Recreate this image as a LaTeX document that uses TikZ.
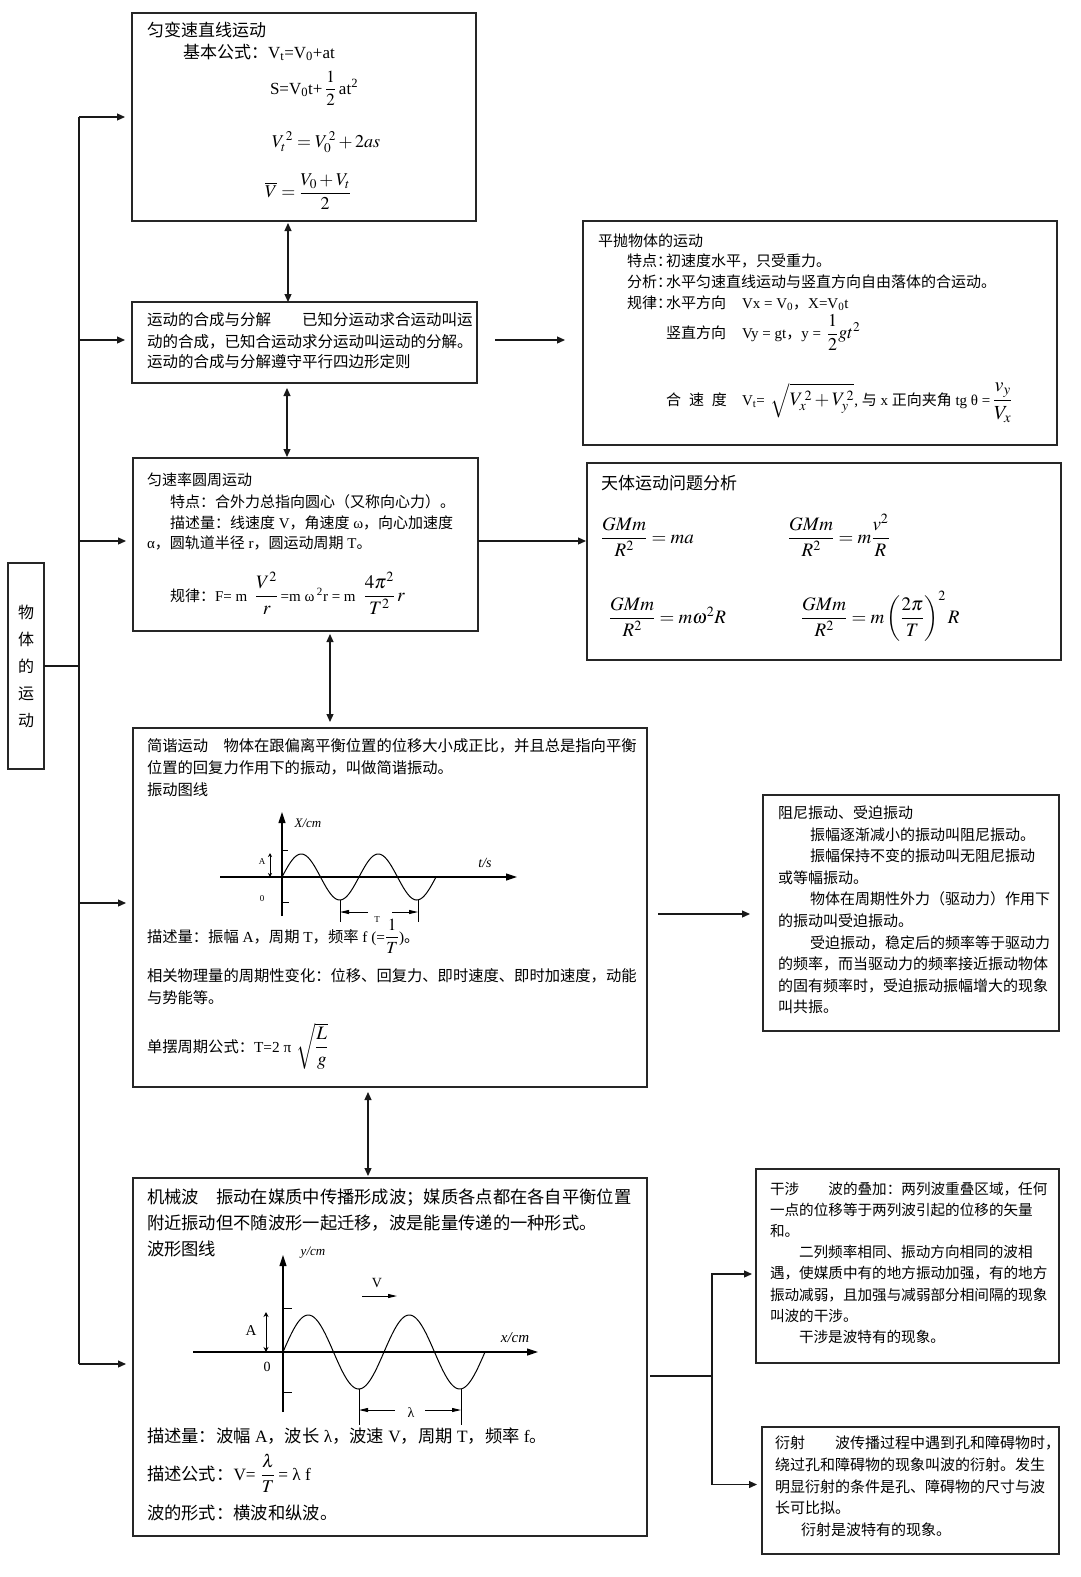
\documentclass[tikz,border=0pt]{standalone}
\usepackage{amsmath}
\usepackage{mathptmx}
\usepackage{fontspec}
\setmainfont{Liberation Serif}
\newfontfamily\cjkf{Noto Sans CJK SC}
\newfontfamily\latf{Liberation Serif}
\usetikzlibrary{arrows.meta,calc}
\XeTeXinterchartokenstate=1
\newXeTeXintercharclass\CJKcls
\newcount\mycc
\mycc="4E00
\loop \XeTeXcharclass\mycc=\CJKcls \advance\mycc by 1 \ifnum\mycc<"A000 \repeat
\mycc="3000
\loop \XeTeXcharclass\mycc=\CJKcls \advance\mycc by 1 \ifnum\mycc<"3040 \repeat
\mycc="FF00
\loop \XeTeXcharclass\mycc=\CJKcls \advance\mycc by 1 \ifnum\mycc<"FFF0 \repeat
\XeTeXinterchartoks 0 \CJKcls = {\cjkf}
\XeTeXinterchartoks 4095 \CJKcls = {\cjkf}
\XeTeXinterchartoks \CJKcls 0 = {\latf}
\XeTeXinterchartoks \CJKcls 4095 = {\latf}
\newcommand\fs[1]{\fontsize{#1}{#1}\selectfont}
\newcommand\Bx[5]{\node[box,minimum width=#4,minimum height=#5] (#1) at (#2,#3) {};}
\newcommand\Txt[5]{\node[txt,font=\fs{#2}] (#1) at (#3,#4) {#5};}
\begin{document}
\begin{tikzpicture}[x=1pt,y=-1pt,
  box/.style={draw=black!85,line width=1.4pt,anchor=north west,inner sep=0pt,outer sep=0pt},
  txt/.style={inner sep=0pt,outer sep=0pt,anchor=base west},
  lbl/.style={inner sep=0pt,outer sep=0pt,anchor=center},
  conn/.style={line width=1.2pt,draw=black!90},
  arr/.style={conn,-{Triangle[length=8pt,width=7pt]}},
  dbl/.style={conn,{Triangle[length=8pt,width=7pt]}-{Triangle[length=8pt,width=7pt]}},
  axis/.style={line width=1.1pt,-{Triangle[length=11pt,width=7pt]}},
  curve/.style={line width=1pt},
  dim/.style={line width=0.9pt,-{Triangle[length=9pt,width=4pt]}},
  thinl/.style={line width=0.9pt}]
\path[use as bounding box,fill=white] (0,0) rectangle (1080,1577);

% boxes
\Bx{b1}{132}{13}{344}{208}
\Bx{b2}{132}{302}{345}{81}
\Bx{b3}{583}{221}{474}{224}
\Bx{b4}{133}{458}{345}{173}
\Bx{b5}{587}{463}{474}{197}
\Bx{b6}{133}{728}{514}{359}
\Bx{b7}{763}{795}{296}{236}
\Bx{b8}{133}{1178}{514}{358}
\Bx{b9}{756}{1169}{303}{194}
\Bx{b10}{762}{1427}{297}{127}
\Bx{bl}{8}{563}{36}{206}

% left vertical label
\node[lbl,font=\fontsize{16}{27}\selectfont,align=center] (lv) at (26,666.5) {物\\体\\的\\运\\动};

% tree
\coordinate (trunk) at (79,0);
\coordinate (e1) at (b1.west);
\coordinate (e2) at ([yshift=2.5pt]b2.west);
\coordinate (e4) at ([yshift=3.5pt]b4.west);
\coordinate (e6) at ([yshift=4.5pt]b6.west);
\coordinate (e8) at ([yshift=-7pt]b8.west);
\draw[conn] (bl.east) -- (bl.east -| trunk);
\draw[conn] (e1 -| trunk) -- (e8 -| trunk);
\foreach \e in {e1,e2,e4,e6,e8} \draw[arr,shorten >=7pt] (\e -| trunk) -- (\e);

% vertical double arrows
\draw[dbl,shorten <=2pt] ([xshift=-16pt]b1.south) -- ([xshift=-16.5pt]b2.north);
\draw[dbl,shorten <=5pt,shorten >=1pt] ([xshift=-17.5pt]b2.south) -- ([xshift=-18.5pt]b4.north);
\draw[dbl,shorten <=3pt,shorten >=6pt] ([xshift=24.5pt]b4.south) -- ([xshift=-60pt]b6.north);
\draw[dbl,shorten <=5pt,shorten >=2pt] ([xshift=-22pt]b6.south) -- ([xshift=-22pt]b8.north);

% horizontal arrows
\coordinate (h2) at ([yshift=2.5pt]b2.east);
\draw[arr,shorten <=18pt,shorten >=18pt] (h2) -- (h2 -| b3.west);
\coordinate (h4) at ([yshift=3.5pt]b4.east);
\draw[arr,shorten >=1pt] (h4) -- (h4 -| b5.west);
\coordinate (h6) at ([yshift=-6.5pt]b6.east);
\draw[arr,shorten <=11pt,shorten >=13pt] (h6) -- (h6 -| b7.west);
\coordinate (h8) at ([yshift=-19pt]b8.east);
\coordinate (jn) at (712,1376);
\draw[conn,shorten <=3pt] (h8) -- (jn);
\coordinate (h9) at ([yshift=-8pt]b9.west);
\coordinate (h10) at ([yshift=6pt]b10.west);
\draw[arr,shorten >=4pt] (jn) |- (h9);
\draw[arr,shorten >=5pt] (jn) |- (h10);

% box 1
\Txt{t1a}{17}{147}{36}{匀变速直线运动}
\Txt{t1b}{17}{183}{58}{基本公式：V\textsubscript{t}=V\textsubscript{0}+at}
\Txt{t1c}{17}{270}{94}{S=V\textsubscript{0}t+\,$\dfrac{1}{2}$\,at\textsuperscript{2}}
\Txt{t1d}{18}{272}{147}{$V_t^{\,2} = V_0^{\,2} + 2as$}
\Txt{t1e}{18}{265}{197.5}{$\overline{V} = \dfrac{V_0+V_t}{2}$}

% box 2
\Txt{t2a}{15.5}{147}{325.6}{运动的合成与分解　　已知分运动求合运动叫运}
\Txt{t2b}{15.5}{147}{347.3}{动的合成，已知合运动求分运动叫运动的分解。}
\Txt{t2c}{15.5}{147}{367.3}{运动的合成与分解遵守平行四边形定则}

% box 3
\Txt{t3a}{15}{598}{246.5}{平抛物体的运动}
\Txt{t3b1}{15}{627}{266.5}{特点：}
\Txt{t3b2}{15}{666}{266.5}{初速度水平，只受重力。}
\Txt{t3c1}{15}{627}{287.5}{分析：}
\Txt{t3c2}{15}{666}{287.5}{水平匀速直线运动与竖直方向自由落体的合运动。}
\Txt{t3d1}{15}{627}{308.5}{规律：}
\Txt{t3d2}{15}{666}{308.5}{水平方向}
\Txt{t3d3}{15}{742}{308.5}{Vx = V\textsubscript{0}，X=V\textsubscript{0}t}
\Txt{t3e1}{15}{666}{338.5}{竖直方向}
\Txt{t3e2}{15}{742}{338.5}{Vy = gt，y =\hspace{6pt}{\fs{18}$\dfrac{1}{2}gt^2$}}
\Txt{t3f1}{15}{666}{405.5}{合\hspace{8pt}速\hspace{8pt}度}
\Txt{t3f2}{15}{742}{405.5}{V\textsubscript{t}=\hspace{6pt}{\fs{19}$\sqrt{V_x^{\,2}+V_y^{\,2}}$}, 与 x 正向夹角 tg θ =\,{\fs{20}$\dfrac{v_y}{V_x}$}}

% box 4
\Txt{t4a}{15}{147}{485.5}{匀速率圆周运动}
\Txt{t4b}{15}{170}{507.5}{特点：合外力总指向圆心（又称向心力）。}
\Txt{t4c}{15}{170}{528.5}{描述量：线速度 V，角速度 ω，向心加速度}
\Txt{t4d}{15}{147}{548.5}{α，圆轨道半径 r，圆运动周期 T。}
\Txt{t4e}{15}{170}{601}{规律：F= m\hspace{8pt}{\fs{19}$\dfrac{V^2}{r}$}\,=m ω\,\textsuperscript{2}r = m\hspace{8pt}{\fs{19}$\dfrac{4\pi^2}{T^2}\,r$}}

% box 5
\Txt{t5a}{17}{601}{489}{天体运动问题分析}
\Txt{t5b}{19}{601}{543}{$\dfrac{GMm}{R^2}=ma$}
\Txt{t5c}{19}{788}{543}{$\dfrac{GMm}{R^2}=m\dfrac{v^2}{R}$}
\Txt{t5d}{19}{609}{623}{$\dfrac{GMm}{R^2}=m\omega^2R$}
\Txt{t5e}{19}{801}{623}{$\dfrac{GMm}{R^2}=m\left(\dfrac{2\pi}{T}\right)^{2}R$}

% box 6
\Txt{t6a}{15.3}{147}{751.5}{简谐运动　物体在跟偏离平衡位置的位移大小成正比，并且总是指向平衡}
\Txt{t6b}{15.3}{147}{773.5}{位置的回复力作用下的振动，叫做简谐振动。}
\Txt{t6c}{15.3}{147}{795.5}{振动图线}
\Txt{t6d}{15.3}{147}{942}{描述量：振幅 A，周期 T，频率 f (={\fs{17}$\dfrac{1}{T}$})。}
\Txt{t6e}{15.3}{147}{981.5}{相关物理量的周期性变化：位移、回复力、即时速度、即时加速度，动能}
\Txt{t6f}{15.3}{147}{1003.5}{与势能等。}
\Txt{t6g}{15.3}{147}{1052}{单摆周期公式：T=2 π\hspace{5pt}{\fs{19}$\sqrt{\dfrac{L}{g}}$}}

% vibration graph
\draw[axis] (220,877) -- (517,877);
\draw[axis] (282,916) -- (282,812);
\draw[curve] plot[domain=0:154,samples=120,smooth] ({282+\x},{877-23*sin(4.67532*\x)});
\draw[thinl] (282,850) -- (288,850);
\draw[thinl] (282,902) -- (289,902);
\draw[thinl,{Stealth[length=4pt,width=4pt]}-{Stealth[length=4pt,width=4pt]}] (270,853) -- (270,877);
\node[lbl,font=\fs{9}] (vA) at (262,862) {A};
\node[lbl,font=\fs{9}] (v0) at (262,899) {0};
\node[lbl,font=\fs{13}\itshape] (vX) at (308,823) {X/cm};
\node[lbl,font=\fs{14}\itshape] (vt) at (485,863) {t/s};
\draw[thinl] (340,900) -- (340,922);
\draw[thinl] (418,900) -- (418,922);
\draw[dim] (368,912) -- (340,912);
\draw[dim] (392,912) -- (418,912);
\node[lbl,font=\fs{9}] (vT) at (377,920) {T};

% box 7
\Txt{t7a}{15}{778}{818.4}{阻尼振动、受迫振动}
\Txt{t7b}{15}{810}{840}{振幅逐渐减小的振动叫阻尼振动。}
\Txt{t7c}{15}{810}{861.6}{振幅保持不变的振动叫无阻尼振动}
\Txt{t7d}{15}{778}{883.2}{或等幅振动。}
\Txt{t7e}{15}{810}{904.8}{物体在周期性外力（驱动力）作用下}
\Txt{t7f}{15}{778}{926.4}{的振动叫受迫振动。}
\Txt{t7g}{15}{810}{948}{受迫振动，稳定后的频率等于驱动力}
\Txt{t7h}{15}{778}{969.6}{的频率，而当驱动力的频率接近振动物体}
\Txt{t7i}{15}{778}{991.2}{的固有频率时，受迫振动振幅增大的现象}
\Txt{t7j}{15}{778}{1012.8}{叫共振。}

% box 8
\Txt{t8a}{17.3}{147}{1203}{机械波　振动在媒质中传播形成波；媒质各点都在各自平衡位置}
\Txt{t8b}{17.3}{147}{1229}{附近振动但不随波形一起迁移，波是能量传递的一种形式。}
\Txt{t8c}{17.3}{147}{1255}{波形图线}
\Txt{t8d}{17.3}{147}{1442}{描述量：波幅 A，波长 λ，波速 V，周期 T，频率 f。}
\Txt{t8e}{17.3}{147}{1480}{描述公式：V=\hspace{5pt}{\fs{18}$\dfrac{\lambda}{T}$}\,= λ f}
\Txt{t8f}{17.3}{147}{1519}{波的形式：横波和纵波。}

% wave graph
\draw[axis] (193,1352) -- (538,1352);
\draw[axis] (283,1412) -- (283,1255);
\draw[curve] plot[domain=0:202,samples=140,smooth] ({283+\x},{1352-37*sin(3.56436*\x)});
\draw[thinl] (283,1308) -- (292,1308);
\draw[thinl] (283,1392) -- (292,1392);
\draw[thinl,{Stealth[length=5pt,width=5pt]}-{Stealth[length=5pt,width=5pt]}] (266,1312) -- (266,1352);
\node[lbl,font=\fs{15}] (wA) at (251,1331) {A};
\node[lbl,font=\fs{14}] (w0) at (267,1367) {0};
\node[lbl,font=\fs{13}\itshape] (wy) at (313,1253) {y/cm};
\node[lbl,font=\fs{15}\itshape] (wx) at (515,1338) {x/cm};
\node[lbl,font=\fs{14}] (wV) at (377,1283) {V};
\draw[dim] (362,1296) -- (397,1296);
\draw[thinl] (359,1389) -- (359,1425);
\draw[thinl] (461,1389) -- (461,1425);
\draw[dim] (395,1410) -- (359,1410);
\draw[dim] (425,1410) -- (461,1410);
\node[lbl,font=\fs{14}] (wl) at (411,1413) {λ};

% box 9
\Txt{t9a}{14.6}{770}{1194.3}{干涉　　波的叠加：两列波重叠区域，任何}
\Txt{t9b}{14.6}{770}{1215.4}{一点的位移等于两列波引起的位移的矢量}
\Txt{t9c}{14.6}{770}{1236.6}{和。}
\Txt{t9d}{14.6}{799}{1257.7}{二列频率相同、振动方向相同的波相}
\Txt{t9e}{14.6}{770}{1278.9}{遇，使媒质中有的地方振动加强，有的地方}
\Txt{t9f}{14.6}{770}{1300}{振动减弱，且加强与减弱部分相间隔的现象}
\Txt{t9g}{14.6}{770}{1321.2}{叫波的干涉。}
\Txt{t9h}{14.6}{799}{1342.3}{干涉是波特有的现象。}

% box 10
\Txt{t10a}{15}{775}{1448.3}{衍射　　波传播过程中遇到孔和障碍物时，}
\Txt{t10b}{15}{775}{1470.5}{绕过孔和障碍物的现象叫波的衍射。发生}
\Txt{t10c}{15}{775}{1492.7}{明显衍射的条件是孔、障碍物的尺寸与波}
\Txt{t10d}{15}{775}{1513.4}{长可比拟。}
\Txt{t10e}{15}{801}{1535.6}{衍射是波特有的现象。}
\end{tikzpicture}
\end{document}
